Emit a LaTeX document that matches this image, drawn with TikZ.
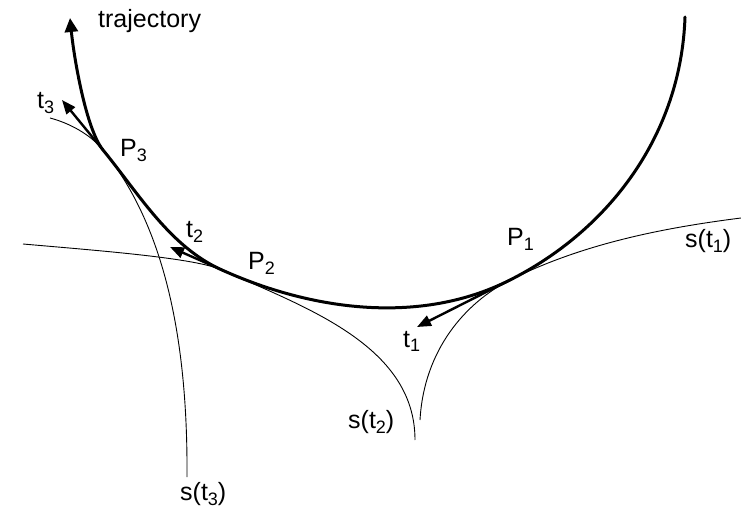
\documentclass[tikz,border=0pt]{standalone}
\usepackage{fontspec}
\setmainfont{Liberation Sans}
\usetikzlibrary{arrows.meta}
\newcommand\sbs[1]{\raisebox{-5pt}{\fontsize{18}{18}\selectfont #1}}
\begin{document}
\begin{tikzpicture}[x=1pt,y=-1pt,
  traj/.style={line width=3pt, line cap=round},
  thinc/.style={line width=0.9pt},
  tang/.style={line width=2.4pt, -{Triangle[length=14pt,width=11pt]}},
  lab/.style={anchor=base west, inner sep=0pt, font=\fontsize{25}{30}\selectfont}]
\useasboundingbox (0,0) rectangle (741,510);
\fill[white] (0,0) rectangle (741,510);

% key points
\coordinate (T0) at (685,17);
\coordinate (P1) at (510,280);
\coordinate (P2) at (222,270);
\coordinate (P3) at (103,150);
\coordinate (Tend) at (70,18);
\coordinate (S1a) at (741,218);
\coordinate (S1b) at (420,420);
\coordinate (S2a) at (23,244);
\coordinate (S2b) at (415,440);
\coordinate (S3a) at (50,118);
\coordinate (S3b) at (187,477);
\coordinate (t1tip) at (417,327);
\coordinate (t2tip) at (170,247);
\coordinate (t3tip) at (62,100);

% thin curves s(t_i)
\draw[thinc] (S1a) .. controls (662,228) and (582,244) .. (P1)
                   .. controls (465,303) and (424,350) .. (S1b);
\draw[thinc] (S2a) .. controls (103,251) and (195,258) .. (P2)
                   .. controls (304,307) and (415,345) .. (S2b);
\draw[thinc] (S3a) .. controls (69,123) and (90,134) .. (P3)
                   .. controls (160,220) and (188,327) .. (S3b);

% trajectory
\draw[traj, -{Triangle[length=14pt,width=13pt]}]
  (T0) .. controls (681,135) and (609,230) .. (P1)
       .. controls (421,325) and (313,311) .. (P2)
       .. controls (170,247) and (139,194) .. (P3)
       .. controls (86,129) and (74,58) .. (Tend);

% tangent vectors
\draw[tang] (P1) -- (t1tip);
\draw[tang] (P2) -- (t2tip);
\draw[tang] (P3) -- (t3tip);

% labels
\node[lab] (ltraj) at (98,28) {trajectory};
\node[lab] (lt3) at (37,109) {t\sbs{3}};
\node[lab] (lP3) at (120,157) {P\sbs{3}};
\node[lab] (lt2) at (186,238) {t\sbs{2}};
\node[lab] (lP2) at (248,270) {P\sbs{2}};
\node[lab] (lP1) at (507,246) {P\sbs{1}};
\node[lab] (ls1) at (685,248) {s(t\sbs{1})};
\node[lab] (lt1) at (403,347) {t\sbs{1}};
\node[lab] (ls2) at (348,428) {s(t\sbs{2})};
\node[lab] (ls3) at (180,500) {s(t\sbs{3})};
\end{tikzpicture}
\end{document}
